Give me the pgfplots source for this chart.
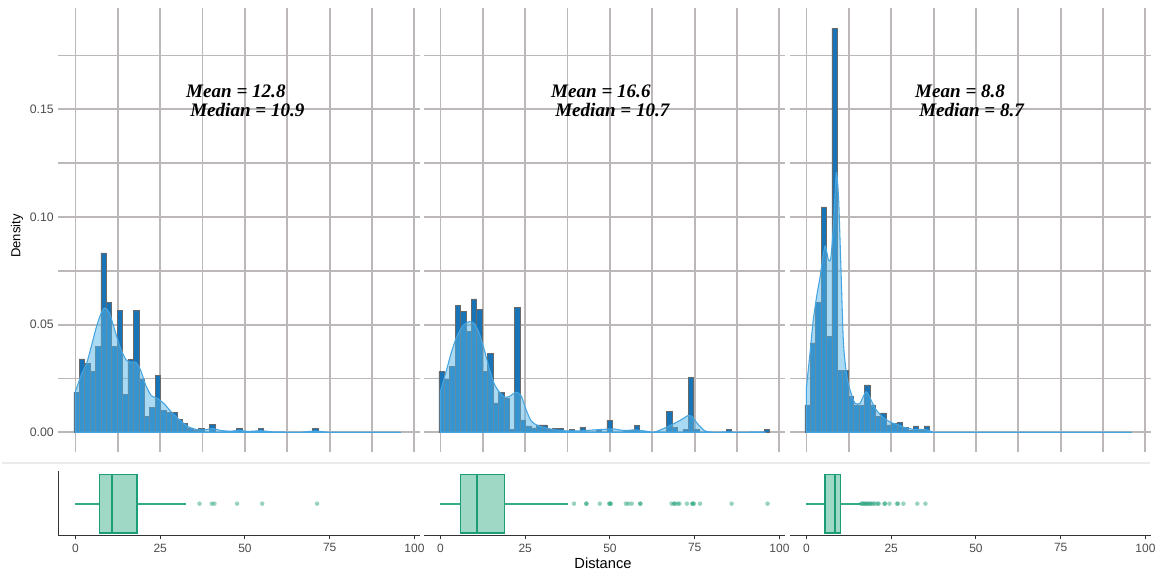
\documentclass[border=0pt]{standalone}
\usepackage{fontspec}
\setmainfont{Liberation Sans}
\newfontfamily\tnr{Liberation Serif}
\usepackage{pgfplots}
\pgfplotsset{compat=1.18}
\usepgfplotslibrary{statistics}

\definecolor{bardark}{RGB}{24,116,182}
\definecolor{barline}{RGB}{105,105,105}
\definecolor{densc}{RGB}{86,180,233}
\definecolor{densline}{RGB}{70,165,225}
\definecolor{gridc}{RGB}{188,184,184}
\definecolor{boxg}{RGB}{27,158,119}
\definecolor{whiskg}{RGB}{52,172,136}
\definecolor{boxfill}{RGB}{160,216,198}
\definecolor{ticktext}{RGB}{77,77,77}

\pgfplotsset{
 histo/.style={scale only axis, width=270.75pt, height=333.225pt, anchor=south west,
   xmin=-5, xmax=101.5, ymin=-0.0094, ymax=0.197,
   axis line style={draw=none},
   xtick={0,12.5,25,37.5,50,62.5,75,87.5,100},
   ytick={0,0.025,0.05,0.075,0.1,0.125,0.15,0.175},
   xmajorgrids=true, ymajorgrids=true,
   major grid style={draw=gridc, line width=1.4pt},
   major tick length=0pt,
   xticklabels={}, yticklabels={},
   yticklabel style={font=\fontsize{9.2}{11}\selectfont, text=ticktext},
   /pgf/number format/assume math mode=true},
 bars/.style={ybar, bar width=1.6, bar shift=0pt, fill=bardark, draw=barline, line width=0.35pt},
 dens/.style={smooth, tension=0.4, fill=densc, fill opacity=0.5, draw=densline, line width=0.8pt},
 bx/.style={scale only axis, width=270.75pt, height=48.525pt, anchor=south west,
   xmin=-5, xmax=101.5, ymin=0, ymax=1,
   axis x line=bottom, xtick={0,25,50,75,100}, ytick=\empty,
   axis line style={-, draw=black!80, line width=0.9pt},
   x axis line style={-}, y axis line style={-},
   tick style={draw=black!80, line width=0.8pt}, tick align=outside, major tick length=2.5pt,
   xticklabel style={font=\fontsize{9}{10}\selectfont, text=ticktext},
   /pgf/number format/assume math mode=true},
 bplot/.style={draw=boxg, fill=boxfill, line width=1.05pt,
   boxplot/every median/.style={draw=boxg, line width=1.8pt}},
 wbar/.style={xbar, bar width=1.35pt, bar shift=0pt, fill=whiskg, draw=none},
 outl/.style={only marks, mark=*, mark size=1.7pt, mark options={fill=boxg, fill opacity=0.45, draw opacity=0}},
}

\begin{document}
\begin{tikzpicture}
\useasboundingbox (0,0) rectangle (870.75pt,429.75pt);
\fill[white] (0,0) rectangle (870.75pt,429.75pt);

% ---------------- Panel 1 histogram
\begin{axis}[histo, at={(43.875pt,90.375pt)}, yticklabels={0.00,,0.05,,0.10,,0.15,}]
\addplot[bars] coordinates {(0.3,0.0187)(1.9,0.0341)(3.5,0.032)(5.1,0.0283)(6.7,0.040)(8.3,0.0833)(9.9,0.0605)(11.5,0.040)(13.1,0.0567)(14.7,0.0175)(16.3,0.034)(17.9,0.0567)(19.5,0.0245)(21.1,0.0074)(22.7,0.0116)(24.3,0.0265)(25.9,0.010)(27.5,0.0094)(29.1,0.0094)(30.7,0.0059)(32.3,0.004)(33.9,0.002)(35.5,0.0008)(37.1,0.0017)(40.3,0.0037)(48.3,0.0017)(54.7,0.0017)(70.7,0.0017)};
\addplot[dens] coordinates {(0,0.019)(1.8,0.027)(3.3,0.032)(4.7,0.040)(6.2,0.049)(7.5,0.055)(8.6,0.0577)(10,0.0555)(11.5,0.048)(13.3,0.039)(15,0.0335)(16.5,0.0325)(17.8,0.0325)(19.2,0.029)(20.7,0.022)(22.4,0.017)(24.3,0.0157)(26.3,0.013)(28.3,0.0094)(30.8,0.0056)(33.5,0.0024)(36.2,0.0011)(38.5,0.0012)(40.5,0.0017)(43,0.0008)(46,0.0005)(48.2,0.0009)(51,0.0004)(54.7,0.0007)(58,0.0002)(62,0.0001)(67,0.0001)(70.7,0.0006)(74,0.0001)(78,0)(96,0)} \closedcycle;
\node[anchor=base west, inner sep=0pt, font=\tnr\bfseries\itshape\fontsize{14.3}{16}\selectfont] at (axis cs:32.6,0.1556) {Mean = 12.8};
\node[anchor=base west, inner sep=0pt, font=\tnr\bfseries\itshape\fontsize{14.3}{16}\selectfont] at (axis cs:33.8,0.1466) {Median = 10.9};
\end{axis}

% ---------------- Panel 2 histogram
\begin{axis}[histo, at={(317.625pt,90.375pt)}]
\addplot[bars] coordinates {(0.3,0.0283)(1.9,0.0245)(3.5,0.0307)(5.1,0.059)(6.7,0.0562)(8.3,0.047)(9.9,0.062)(11.5,0.057)(13.1,0.0283)(14.7,0.0368)(16.3,0.0136)(17.9,0.0186)(19.5,0.016)(21.1,0.0015)(22.7,0.0579)(24.3,0.0057)(25.9,0.003)(27.5,0.002)(29.1,0.0034)(30.7,0.0034)(32.3,0.0012)(33.9,0.0019)(35.5,0.0018)(38.7,0.0012)(41.9,0.0024)(46.7,0.0011)(49.9,0.0054)(54.7,0.0008)(56.3,0.0008)(57.9,0.0033)(67.5,0.0096)(69.1,0.0022)(72.3,0.0012)(73.9,0.0255)(75.5,0.0012)(85.1,0.0012)(96.3,0.0012)};
\addplot[dens] coordinates {(0,0.019)(1.8,0.029)(3.2,0.037)(4.7,0.044)(6.6,0.0495)(8.6,0.0514)(10.1,0.0503)(11.5,0.0457)(13.0,0.038)(14.5,0.029)(15.9,0.0224)(17.4,0.0186)(18.9,0.0163)(20.3,0.0166)(22.3,0.0186)(23.8,0.017)(25.2,0.0108)(26.7,0.0054)(28.7,0.0031)(31.1,0.002)(35.2,0.0008)(41.1,0.0006)(44.4,0.001)(48.8,0.0014)(50.8,0.0016)(54.2,0.0008)(57.2,0.0011)(60.2,0.0006)(63.1,0.0001)(66.1,0.0019)(68.6,0.0038)(71.1,0.0059)(73.1,0.0078)(74.1,0.0075)(76.1,0.0035)(78.1,0.0006)(81.1,0)(84.1,0.0002)(88,0)(94,0.0002)(96,0)} \closedcycle;
\node[anchor=base west, inner sep=0pt, font=\tnr\bfseries\itshape\fontsize{14.3}{16}\selectfont] at (axis cs:32.6,0.1556) {Mean = 16.6};
\node[anchor=base west, inner sep=0pt, font=\tnr\bfseries\itshape\fontsize{14.3}{16}\selectfont] at (axis cs:33.8,0.1466) {Median = 10.7};
\end{axis}

% ---------------- Panel 3 histogram
\begin{axis}[histo, at={(592.125pt,90.375pt)}]
\addplot[bars] coordinates {(0.3,0.0127)(1.9,0.0415)(3.5,0.0604)(5.1,0.1047)(6.7,0.0446)(8.3,0.1877)(9.9,0.0287)(11.5,0.0287)(13.1,0.0166)(14.7,0.0127)(16.3,0.0127)(17.9,0.022)(19.5,0.0127)(21.1,0.0073)(22.7,0.009)(24.3,0.0034)(25.9,0.0042)(27.5,0.0045)(29.1,0.0023)(30.7,0.0008)(32.3,0.003)(33.9,0.001)(35.5,0.003)};
\addplot[dens] coordinates {(0,0.021)(1,0.036)(2,0.052)(3,0.063)(4,0.072)(5,0.083)(5.6,0.0865)(6.5,0.080)(7.2,0.081)(8,0.097)(8.8,0.1207)(9.5,0.108)(10.2,0.075)(10.9,0.042)(11.8,0.027)(12.8,0.020)(14.3,0.0135)(15.8,0.0135)(17.6,0.0188)(19.2,0.0145)(20.5,0.0105)(22.7,0.0068)(25,0.0045)(27,0.0035)(29,0.0022)(32,0.0013)(35,0.0013)(37,0.0003)(39,0)(96,0)} \closedcycle;
\node[anchor=base west, inner sep=0pt, font=\tnr\bfseries\itshape\fontsize{14.3}{16}\selectfont] at (axis cs:32.0,0.1556) {Mean = 8.8};
\node[anchor=base west, inner sep=0pt, font=\tnr\bfseries\itshape\fontsize{14.3}{16}\selectfont] at (axis cs:33.2,0.1466) {Median = 8.7};
\end{axis}

% separator
\draw[black!8, line width=0.8pt] (1.5pt,82.5pt) -- (862.5pt,82.5pt);

% ---------------- Boxplots
\begin{axis}[bx, at={(43.875pt,27.975pt)}, axis y line=left, y axis line style={-}, every outer y axis line/.append style={-}, every inner y axis line/.append style={-}]
\addplot[wbar] coordinates {(32.5,0.495)};
\addplot[bplot, boxplot prepared={lower whisker=7.16, lower quartile=7.16, median=10.8, upper quartile=18.1, upper whisker=18.1, draw position=0.495, box extend=0.91, whisker extend=0}] coordinates {};
\addplot[outl] coordinates {(36.6,0.495)(40.2,0.495)(41.0,0.495)(47.7,0.495)(55.1,0.495)(71.3,0.495)};
\end{axis}

\begin{axis}[bx, at={(317.625pt,27.975pt)}, axis y line=none]
\addplot[wbar] coordinates {(37.6,0.495)};
\addplot[bplot, boxplot prepared={lower whisker=6.0, lower quartile=6.0, median=10.7, upper quartile=18.9, upper whisker=18.9, draw position=0.495, box extend=0.91, whisker extend=0}] coordinates {};
\addplot[outl] coordinates {(39.4,0.495)(43.0,0.495)(43.1,0.495)(47.0,0.495)(49.8,0.495)(50.0,0.495)(50.3,0.495)(54.7,0.495)(55.4,0.495)(56.4,0.495)(58.9,0.495)(59.0,0.495)(68.2,0.495)(69.0,0.495)(69.1,0.495)(70.0,0.495)(70.5,0.495)(72.7,0.495)(74.3,0.495)(74.4,0.495)(74.8,0.495)(76.6,0.495)(85.9,0.495)(96.5,0.495)};
\end{axis}

\begin{axis}[bx, at={(592.125pt,27.975pt)}, axis y line=none]
\addplot[wbar] coordinates {(16.1,0.495)};
\addplot[bplot, boxplot prepared={lower whisker=5.5, lower quartile=5.5, median=8.5, upper quartile=10.0, upper whisker=10.0, draw position=0.495, box extend=0.91, whisker extend=0}] coordinates {};
\addplot[outl] coordinates {(16.2,0.495)(16.5,0.495)(16.9,0.495)(17.3,0.495)(17.6,0.495)(18.0,0.495)(18.4,0.495)(18.8,0.495)(19.2,0.495)(19.7,0.495)(20.2,0.495)(21.0,0.495)(21.3,0.495)(23.0,0.495)(23.2,0.495)(24.5,0.495)(26.7,0.495)(27.0,0.495)(28.6,0.495)(32.7,0.495)(35.1,0.495)};
\end{axis}

\node[rotate=90, font=\fontsize{9.8}{11}\selectfont] at (12.75pt,252.75pt) {Density};
\node[font=\fontsize{11}{13}\selectfont] at (452.25pt,7.5pt) {Distance};
\end{tikzpicture}
\end{document}
